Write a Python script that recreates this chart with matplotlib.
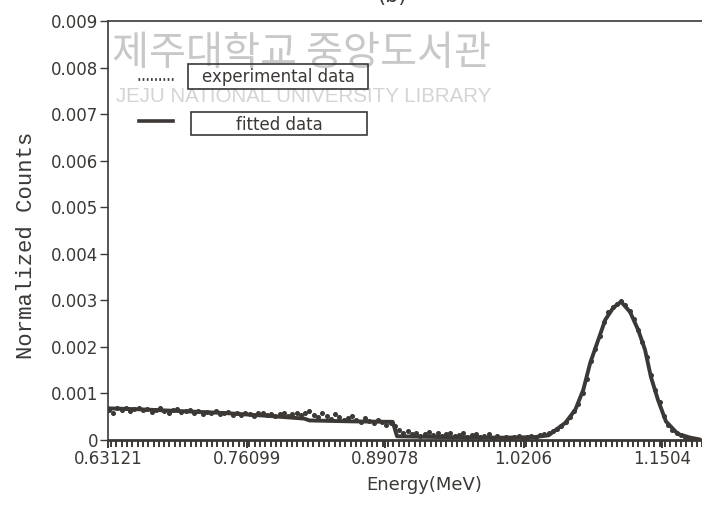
#!/usr/bin/env python3
"""Gamma spectrum: experimental counts and fitted curve vs energy."""

import matplotlib
matplotlib.use("Agg")
import matplotlib.pyplot as plt
import numpy as np
from matplotlib.patches import Rectangle
from matplotlib.ticker import MultipleLocator

INK = "#3b3836"

# x tick labels as printed on the axis (MeV)
x_ticks = [0.63121, 0.76099, 0.89078, 1.0206, 1.1504]
x_tick_labels = ["0.63121", "0.76099", "0.89078", "1.0206", "1.1504"]
y_ticks = [0, 0.001, 0.002, 0.003, 0.004, 0.005, 0.006, 0.007, 0.008, 0.009]
y_tick_labels = ["0", "0.001", "0.002", "0.003", "0.004", "0.005",
                 "0.006", "0.007", "0.008", "0.009"]

# channel calibration of the measured spectrum
e_start = 0.632
e_gain = 0.004

# measured normalized counts, in units of 1e-4
counts_exp = [
    6.4, 5.8, 6.9, 6.5, 6.8, 6.2, 6.6, 6.9, 6.4, 6.7,
    6.1, 6.5, 6.8, 6.3, 5.7, 6.4, 6.6, 6.0, 6.3, 6.5,
    5.9, 6.2, 5.6, 6.1, 5.8, 6.3, 5.5, 5.9, 6.0, 5.4,
    5.8, 5.3, 5.9, 5.6, 5.2, 5.7, 5.9, 5.3, 5.6, 5.1,
    5.5, 5.8, 5.2, 5.6, 5.9, 5.3, 5.7, 6.2, 5.4, 5.0,
    5.8, 5.1, 4.6, 5.5, 4.9, 4.3, 4.8, 5.2, 4.4, 3.9,
    4.7, 4.1, 3.6, 4.3, 3.8, 3.3, 3.6, 2.9, 2.2, 1.6,
    1.9, 1.2, 1.5, 0.9, 1.3, 1.7, 1.0, 1.4, 0.8, 1.2,
    1.6, 0.9, 1.1, 1.5, 0.7, 1.0, 1.3, 0.6, 0.9, 1.2,
    0.5, 0.8, 0.4, 0.7, 0.3, 0.6, 0.8, 0.4, 0.6, 0.9,
    0.7, 1.0, 1.2, 1.5, 1.9, 2.4, 3.1, 3.8, 4.9, 6.3,
    7.8, 10.2, 13.1, 16.9, 19.6, 22.4, 25.3, 27.4, 28.6, 29.3,
    29.9, 28.9, 27.8, 25.9, 23.6, 21.0, 17.8, 13.9, 10.7, 8.1,
    5.2, 3.3, 2.2, 1.4, 1.0, 0.7, 0.5, 0.3, 0.1,
]

# fitted curve, energy (MeV) and value in units of 1e-4
e_fit = [0.6312, 0.66, 0.70, 0.74, 0.78, 0.815, 0.82, 0.86, 0.898, 0.902,
         0.95, 1.00, 1.03, 1.044, 1.0598, 1.0691, 1.0766, 1.0831, 1.0906,
         1.0971, 1.1046, 1.112, 1.1204, 1.1279, 1.1344, 1.14, 1.1466,
         1.154, 1.1652, 1.177, 1.186]
counts_fit = [6.8, 6.6, 6.2, 5.8, 5.2, 4.6, 4.2, 4.0, 3.9, 0.8,
              0.6, 0.5, 0.6, 1.0, 3.7, 6.5, 10.8, 16.6, 21.5,
              25.8, 28.4, 29.7, 27.5, 23.7, 19.4, 13.5, 8.6,
              4.0, 1.3, 0.5, 0.1]

e_exp = e_start + e_gain * np.arange(len(counts_exp))
y_exp = np.array(counts_exp) * 1e-4
y_fit = np.array(counts_fit) * 1e-4

W, H = 702, 509


def fx(px):
    return px / W


def fy(py):
    return 1 - py / H


fig = plt.figure(figsize=(W / 100, H / 100), dpi=100)
fig.patch.set_facecolor("white")

# library stamp printed across the page
fig.text(fx(301), fy(53), "제주대학교 중앙도서관", ha="center", va="center",
         fontsize=29, color="#c8c8c8",
         family=["Noto Sans CJK KR", "DejaVu Sans"], zorder=-1)
fig.text(fx(304), fy(96), "JEJU NATIONAL UNIVERSITY LIBRARY", ha="center",
         va="center", fontsize=14.8, color="#d4d4d4", family="Liberation Sans",
         zorder=-1)

# axis frame: x0 at 108 px, 138.5 px per labelled step, right side runs off the page
step_px = 138.5
x_right_px = 740
ax = fig.add_axes([fx(108), fy(440), fx(x_right_px - 108), (440 - 21) / H])
ax.set_facecolor("none")
x_step = x_ticks[1] - x_ticks[0]
ax.set_xlim(x_ticks[0], x_ticks[0] + (x_right_px - 108) / step_px * x_step)
ax.set_ylim(0, 0.009)

ax.plot(e_fit, y_fit, color=INK, lw=2.8, solid_capstyle="round", zorder=3)
ax.plot(e_exp, y_exp, ls="none", marker="o", ms=2.6, color=INK, zorder=4)

ax.set_xticks(x_ticks)
ax.set_xticklabels(x_tick_labels)
ax.xaxis.set_minor_locator(MultipleLocator(x_step / 26))
ax.set_yticks(y_ticks)
ax.set_yticklabels(y_tick_labels)

ax.tick_params(axis="both", which="major", labelsize=12, labelcolor=INK,
               color=INK, direction="out")
ax.tick_params(axis="x", which="major", length=6, width=1.4, pad=1)
ax.tick_params(axis="x", which="minor", length=5, width=1.4, color=INK)
ax.tick_params(axis="y", which="major", length=6, width=1.0, pad=1)

for side in ("left", "top"):
    ax.spines[side].set_color(INK)
    ax.spines[side].set_linewidth(1.2)
ax.spines["bottom"].set_color(INK)
ax.spines["bottom"].set_linewidth(2.0)
ax.spines["right"].set_visible(False)

ax.set_xlabel("Energy(MeV)", fontsize=13, color=INK, labelpad=6)
fig.text(fx(27), fy(245), "Normalized Counts", rotation=90, ha="center",
         va="center", fontsize=16, color=INK, family="Liberation Mono")

# panel tag, cut by the top edge
fig.text(fx(392), fy(-4), "(b)", ha="center", va="center", fontsize=15,
         color=INK)

# legend: sample lines and boxed labels
fig.add_artist(plt.Line2D([fx(138), fx(173)], [fy(79), fy(79)], color=INK,
                          lw=2.0, ls=(0, (0.6, 0.9))))
fig.add_artist(plt.Line2D([fx(139), fx(173)], [fy(121), fy(121)], color=INK,
                          lw=2.6))
for (x0, y0, x1, y1), label in [((188, 64, 368, 89), "experimental data"),
                                ((191, 112, 367, 135), "fitted data")]:
    fig.add_artist(Rectangle((fx(x0), fy(y1)), fx(x1 - x0), (y1 - y0) / H,
                             transform=fig.transFigure, fill=False,
                             ec=INK, lw=1.2, zorder=1))
    fig.text(fx((x0 + x1) / 2), fy((y0 + y1) / 2 + 1), label, ha="center",
             va="center", fontsize=12, color=INK, zorder=2)

fig.savefig("out.png", dpi=100)
plt.close(fig)
